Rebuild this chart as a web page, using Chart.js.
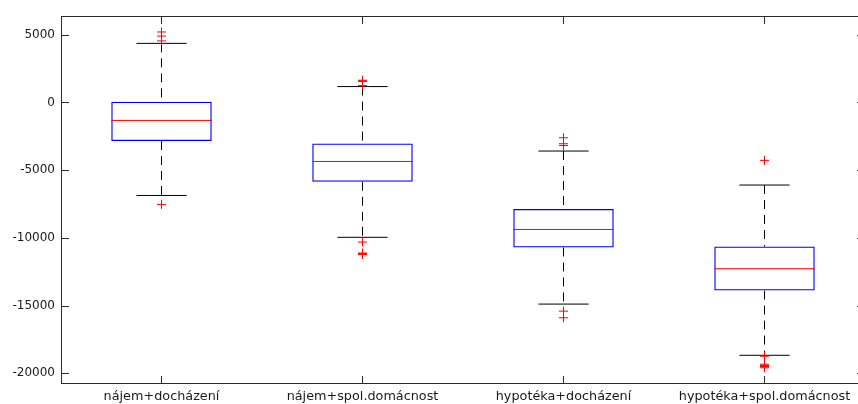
<!DOCTYPE html>
<html>
<head>
<meta charset="utf-8">
<title>Boxplot</title>
<script src="https://cdn.jsdelivr.net/npm/chart.js@4.4.0/dist/chart.umd.min.js"></script>
<style>
  html, body { margin: 0; padding: 0; background: #fff; overflow: hidden; }
  #wrap { position: relative; width: 880px; height: 404px; }
</style>
</head>
<body>
<div id="wrap"><canvas id="boxChart"></canvas></div>
<script>
// box statistics per group
const categories = ['nájem+docházení', 'nájem+spol.domácnost', 'hypotéka+docházení', 'hypotéka+spol.domácnost'];
const lowerQuartile = [-2850, -5860, -10710, -13890];
const medians = [-1330, -4360, -9380, -12280];
const upperQuartile = [50, -3030, -7870, -10640];
const lowerWhisker = [-6870, -9960, -14890, -18670];
const upperWhisker = [4360, 1170, -3590, -6100];
const outliers = [
  [5200, 4900, 4540, -7530],
  [1640, 1590, 1550, 1240, -10310, -11120, -11170, -11230],
  [-2610, -3050, -3180, -15410, -15900],
  [-4280, -18740, -19330, -19420, -19500, -19590]
];
const yTicks = [5000, 0, -5000, -10000, -15000, -20000];
const yMin = -20790;
const yMax = 6380;

const positions = categories.map((_, i) => i + 1);
const BOX_HALF = 0.25;
const CAP_HALF = 0.125;
const TICK_LEN = 8;

// points list with a null point between pieces so the line breaks
function pieces(list) {
  const out = [];
  list.forEach(seg => { out.push(...seg, { x: seg[0].x, y: null }); });
  return out;
}

const whiskerData = pieces(positions.flatMap((x, i) => [
  [{ x, y: upperWhisker[i] }, { x, y: upperQuartile[i] }],
  [{ x, y: lowerQuartile[i] }, { x, y: lowerWhisker[i] }]
]));
const capData = pieces(positions.flatMap((x, i) => [
  [{ x: x - CAP_HALF, y: upperWhisker[i] }, { x: x + CAP_HALF, y: upperWhisker[i] }],
  [{ x: x - CAP_HALF, y: lowerWhisker[i] }, { x: x + CAP_HALF, y: lowerWhisker[i] }]
]));
const medianData = pieces(positions.map((x, i) =>
  [{ x: x - BOX_HALF, y: medians[i] }, { x: x + BOX_HALF, y: medians[i] }]
));
const boxData = positions.map((x, i) => ({ x, y: [lowerQuartile[i], upperQuartile[i]] }));
const outlierData = positions.flatMap((x, i) => outliers[i].map(y => ({ x, y })));

// axes box with inward ticks on all four sides
const axesFrame = {
  id: 'axesFrame',
  afterDatasetsDraw(chart) {
    const { ctx, chartArea: a, scales: { x, y } } = chart;
    ctx.save();
    ctx.strokeStyle = '#2b2b2b';
    ctx.lineWidth = 1;
    ctx.strokeRect(a.left + 0.5, a.top + 0.5, a.right - a.left - 1, a.bottom - a.top - 1);
    ctx.beginPath();
    y.ticks.forEach(t => {
      const py = Math.round(y.getPixelForValue(t.value)) + 0.5;
      ctx.moveTo(a.left, py); ctx.lineTo(a.left + TICK_LEN, py);
      ctx.moveTo(a.right, py); ctx.lineTo(a.right - TICK_LEN, py);
    });
    x.ticks.forEach(t => {
      const px = Math.floor(x.getPixelForValue(t.value)) + 0.5;
      ctx.moveTo(px, a.bottom); ctx.lineTo(px, a.bottom - TICK_LEN);
      ctx.moveTo(px, a.top); ctx.lineTo(px, a.top + TICK_LEN);
    });
    ctx.stroke();
    ctx.restore();
  }
};

Chart.defaults.font.family = '"DejaVu Sans", sans-serif';
Chart.defaults.font.size = 12;
Chart.defaults.color = '#1a1a1a';

new Chart(document.getElementById('boxChart'), {
  type: 'bar',
  data: {
    datasets: [
      {
        type: 'scatter',
        data: outlierData,
        pointStyle: 'cross',
        pointRadius: 4.5,
        borderColor: '#ff0000',
        borderWidth: 1
      },
      {
        type: 'line',
        data: medianData,
        borderColor: '#ff0000',
        borderWidth: 1,
        pointRadius: 0,
        spanGaps: false
      },
      {
        type: 'bar',
        data: boxData,
        backgroundColor: 'rgba(0,0,0,0)',
        borderColor: '#0000ff',
        borderWidth: 1.3,
        borderSkipped: false,
        categoryPercentage: 0.5,
        barPercentage: 1
      },
      {
        type: 'line',
        data: capData,
        borderColor: '#000000',
        borderWidth: 1,
        pointRadius: 0,
        spanGaps: false
      },
      {
        type: 'line',
        data: whiskerData,
        borderColor: '#000000',
        borderWidth: 1,
        borderDash: [9, 6],
        pointRadius: 0,
        spanGaps: false
      }
    ]
  },
  options: {
    responsive: true,
    maintainAspectRatio: false,
    animation: false,
    events: [],
    layout: { padding: { top: 16, right: 15, left: 0, bottom: 0 } },
    plugins: { legend: { display: false }, tooltip: { enabled: false } },
    scales: {
      x: {
        type: 'linear',
        min: 0.5,
        max: 4.5,
        offset: false,
        grid: { display: false, drawTicks: false },
        border: { display: false },
        afterBuildTicks: scale => { scale.ticks = positions.map(v => ({ value: v })); },
        afterFit: scale => { scale.height = 20; },
        ticks: {
          autoSkip: false,
          maxRotation: 0,
          padding: 5,
          font: { size: 12.8 },
          callback: v => categories[v - 1]
        }
      },
      y: {
        type: 'linear',
        min: yMin,
        max: yMax,
        beginAtZero: false,
        grid: { display: false, drawTicks: false },
        border: { display: false },
        afterBuildTicks: scale => { scale.ticks = yTicks.map(v => ({ value: v })); },
        afterFit: scale => { scale.width = 61; },
        ticks: { padding: 6, callback: v => String(v) }
      }
    }
  },
  plugins: [axesFrame]
});
</script>
</body>
</html>
